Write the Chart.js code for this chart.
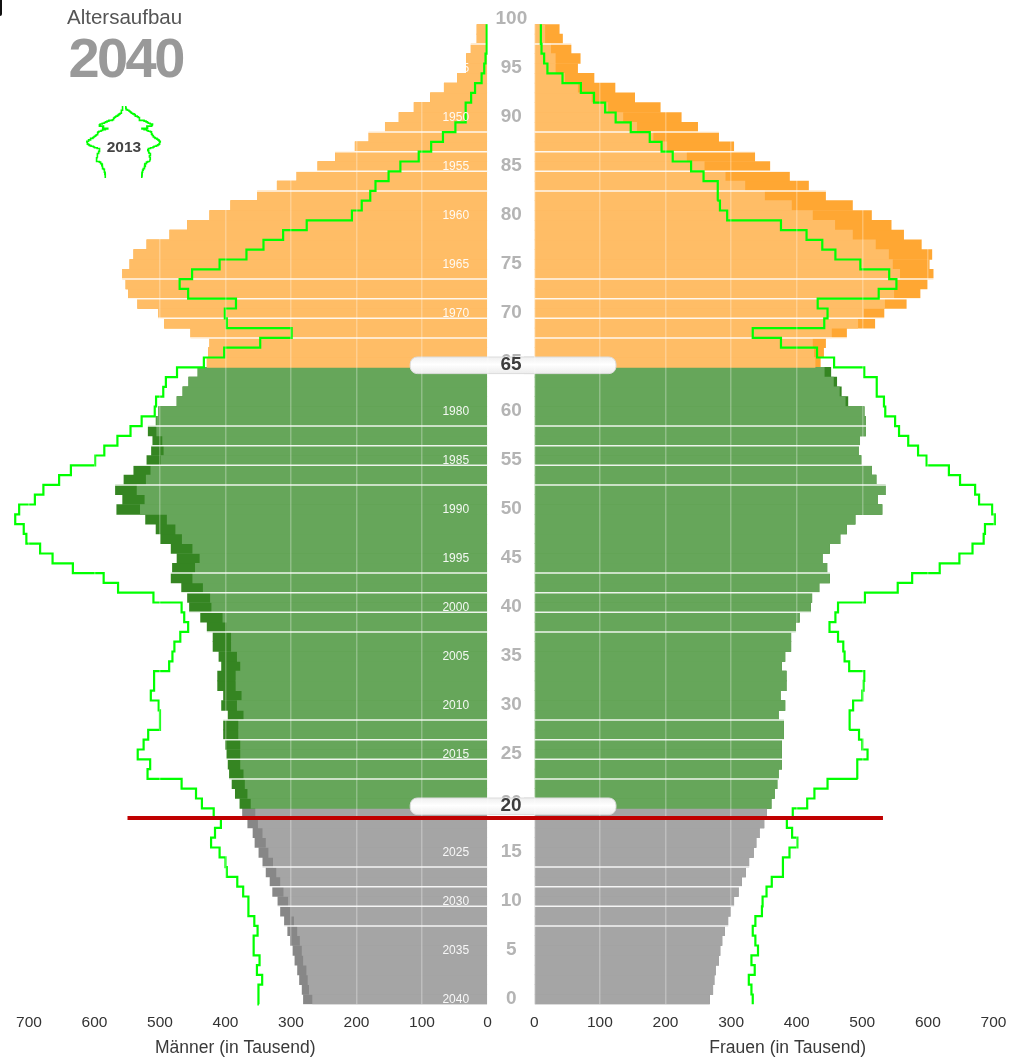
<!DOCTYPE html>
<html lang="de"><head><meta charset="utf-8"><title>Altersaufbau 2040</title>
<script src="https://cdn.jsdelivr.net/npm/chart.js@4/dist/chart.umd.min.js"></script>
<style>
html,body{margin:0;padding:0;background:#fff;overflow:hidden;width:1015px;height:1058px;font-family:"Liberation Sans",Arial,sans-serif}
canvas{position:absolute;display:block}
.t{position:absolute;white-space:nowrap;z-index:5}
</style></head><body>
<div class="t" style="left:0;top:0;width:2px;height:16px;background:#111;border-bottom-right-radius:2px"></div>
<div class="t" style="left:67px;top:5px;font-size:20.5px;line-height:24px;color:#555">Altersaufbau</div>
<div class="t" style="left:68.5px;top:26px;font-size:56px;line-height:64px;font-weight:bold;letter-spacing:-2.6px;color:#999">2040</div>
<canvas id="male" width="551" height="1058" style="left:-17px;top:0"></canvas>
<canvas id="female" width="517" height="1058" style="left:524px;top:0"></canvas>
<canvas id="inset" width="88" height="84" style="left:80px;top:100px"></canvas>
<div class="t" style="left:84px;width:80px;top:137px;text-align:center;font-size:15.5px;line-height:20px;font-weight:bold;color:#444">2013</div>
<script>
// Values in thousands, index = age 0..99
const maleValues = [281,283,287,290,294,297,301,305,310,316,320,328,332,338,343,349,355,358,366,374,
378,385,390,394,396,398,400,403,403,396,406,403,412,412,406,410,419,419,428,438,
455,458,467,483,481,474,483,499,506,522,566,557,568,555,540,520,513,511,518,506,
502,474,465,456,442,428,426,424,453,493,502,534,548,552,557,546,540,520,485,458,
424,392,351,321,291,259,232,202,181,156,135,112,87,66,46,32,32,25,16,16];
const femaleValues = [267,272,274,276,281,283,286,290,295,299,304,311,316,322,327,334,338,343,350,354,
361,366,370,372,377,377,377,380,380,372,382,375,384,384,377,382,391,391,398,404,
421,423,434,450,446,439,450,466,476,489,530,523,535,521,514,498,494,496,505,505,
503,478,468,461,452,436,441,444,476,519,533,567,588,599,608,602,606,590,563,544,
514,485,444,418,389,359,336,304,281,249,224,192,153,123,91,66,70,56,43,38];
const male2013 = [349,350,344,352,348,357,357,351,356,365,365,373,382,398,400,409,422,416,407,418,
436,445,467,519,515,534,525,518,500,500,502,514,509,509,486,481,478,469,457,463,
467,510,564,586,633,664,683,704,708,721,715,691,678,654,636,599,585,565,545,528,
508,506,495,491,474,433,402,347,299,398,401,384,457,470,451,409,368,342,312,276,
207,192,179,171,151,133,105,86,68,49,34,33,25,19,9,5,3,2,1,1];
const female2013 = [333,331,327,336,331,341,337,333,337,347,348,354,362,379,379,389,401,393,385,394,
416,427,447,493,492,508,500,495,480,481,486,500,502,503,480,473,471,463,450,459,
463,504,554,576,618,648,668,685,687,702,698,678,672,649,632,598,585,570,556,550,
535,533,522,522,503,457,431,376,333,442,447,432,525,552,541,497,459,439,415,376,
294,283,279,280,258,239,211,194,176,147,124,108,91,71,43,20,15,11,10,10];
const ageTicks = [0,5,10,15,20,25,30,35,40,45,50,55,60,65,70,75,80,85,90,95,100];
const yearLabels = [1945,1950,1955,1960,1965,1970,1975,1980,1985,1990,1995,2000,2005,2010,2015,2020,2025,2030,2035,2040];
const projectionYear = 2040;
const separatorAges = [8,10,12,14,23,25,27,29,38,40,42,44,53,55,57,59,68,70,72,74,83,85,87,89,98];
const handleAges = [65,20];
const cutoffAge = 19;
const colours = {
  old:{light:'#ffbd66',dark:'#ffa733'},
  work:{light:'#66a65a',dark:'#358522'},
  young:{light:'#a5a5a5',dark:'#878787'}
};
const band = a => a >= 65 ? colours.old : a >= 20 ? colours.work : colours.young;
const FONT = '"Liberation Sans",Arial,sans-serif';

const barPts = arr => arr.map((v,i)=>({x:v,y:i+0.5}));
const stepPts = arr => arr.flatMap((v,i)=>[{x:v,y:i},{x:v,y:i+1}]);

function overlay(isMale, handleSpan, redSpan){
  return {
    id:'overlay',
    beforeDatasetDraw(chart,args){
      if(chart.data.datasets[args.index].label!=='2013') return;
      const {x,y}=chart.scales, c=chart.ctx, a=chart.chartArea;
      c.save();c.strokeStyle='rgba(255,255,255,0.88)';c.lineWidth=1.5;
      separatorAges.forEach(g=>{const p=y.getPixelForValue(g);c.beginPath();c.moveTo(a.left,p);c.lineTo(a.right,p);c.stroke();});
      c.restore();
    },
    afterDatasetsDraw(chart){
      const {x,y}=chart.scales, c=chart.ctx;
      c.save();
      if(isMale){
        c.font='12px '+FONT;c.fillStyle='rgba(255,255,255,0.92)';c.textAlign='center';c.textBaseline='middle';
        yearLabels.forEach(Y=>c.fillText(String(Y),x.getPixelForValue(48.5),y.getPixelForValue(projectionYear-Y)-4.3));
      }
      handleAges.forEach(ag=>{
        const mid=y.getPixelForValue(ag)-2, h=16.6, top=mid-h/2;
        const l=isMale?x.getPixelForValue(handleSpan):-20, r=isMale?chart.width+20:x.getPixelForValue(handleSpan);
        const g=c.createLinearGradient(0,top,0,top+h);
        g.addColorStop(0,'#efefef');g.addColorStop(.45,'#ffffff');g.addColorStop(1,'#ececec');
        c.beginPath();c.roundRect(l,top,r-l,h,7);c.fillStyle=g;c.fill();
        c.strokeStyle='#dcdcdc';c.lineWidth=1;c.stroke();
      });
      c.restore();
    },
    afterDraw(chart){
      const {x,y}=chart.scales, c=chart.ctx;
      c.save();
      if(isMale){
        c.font='bold 19px '+FONT;c.fillStyle='#3d3d3d';c.textAlign='center';c.textBaseline='middle';
        const cx=x.getPixelForValue(0)+23.5;
        handleAges.forEach(ag=>c.fillText(String(ag),cx,y.getPixelForValue(ag)-2.6));
      }
      c.strokeStyle='#c00000';c.lineWidth=4;c.beginPath();
      const p=y.getPixelForValue(cutoffAge);
      if(isMale){c.moveTo(x.getPixelForValue(redSpan),p);c.lineTo(chart.width,p);}
      else{c.moveTo(0,p);c.lineTo(x.getPixelForValue(redSpan),p);}
      c.stroke();c.restore();
    }
  };
}

function side(id, own, other, line2013, opts){
  const lightVals = own.map((v,i)=>Math.min(v,other[i]));
  new Chart(document.getElementById(id),{
    type:'bar',
    data:{datasets:[
      {label:'2013',type:'line',indexAxis:'y',data:stepPts(line2013),borderColor:'#00ff00',borderWidth:2.2,
       pointRadius:0,tension:0,fill:false,order:0,clip:false},
      {label:'common',indexAxis:'y',data:barPts(lightVals),backgroundColor:c=>band(Math.floor(c.raw.y)).light,order:1},
      {label:'surplus',indexAxis:'y',data:barPts(own),backgroundColor:c=>band(Math.floor(c.raw.y)).dark,order:2}
    ]},
    options:{
      indexAxis:'y',responsive:false,animation:false,
      datasets:{bar:{grouped:false,barPercentage:1,categoryPercentage:1,borderWidth:0}},
      layout:{autoPadding:false,padding:{top:24.3,left:opts.padLeft,right:0,bottom:0}},
      plugins:{legend:{display:false},tooltip:{enabled:false},title:{display:false}},
      scales:{
        x:{type:'linear',min:0,max:opts.max,reverse:opts.reverse,position:'bottom',
           afterFit:s=>{s.height=53.7;s.paddingLeft=0;s.paddingRight=0;},
           border:{display:false},
           grid:{color:'rgba(255,255,255,0.28)',lineWidth:1.5,drawTicks:false,z:1},
           ticks:{stepSize:100,includeBounds:false,autoSkip:false,maxRotation:0,padding:9.5,color:'#333',font:{family:FONT,size:15.5}},
           title:{display:true,text:opts.title,color:'#3a3a3a',font:{family:FONT,size:17.5},padding:{top:0,bottom:-0.8}}},
        y:{type:'linear',min:0,max:100,position:'right',display:opts.showAges,offset:false,
           afterFit:s=>{s.width=opts.showAges?46.5:0;s.paddingTop=0;s.paddingBottom=0;},
           border:{display:false},grid:{display:false,drawTicks:false,offset:false},
           afterBuildTicks:s=>{s.ticks=ageTicks.map(v=>({value:v}));},
           ticks:{autoSkip:false,padding:8,crossAlign:'center',labelOffset:-5.8,color:'#b4b4b4',font:{family:FONT,size:19,weight:'bold'}}}
      }
    },
    plugins:[overlay(opts.isMale,opts.handleSpan,opts.redSpan)]
  });
}

side('male',maleValues,femaleValues,male2013,{isMale:true,reverse:true,max:770.2,padLeft:0,showAges:true,title:'Männer (in Tausend)',handleSpan:118,redSpan:549.6});
side('female',femaleValues,maleValues,female2013,{isMale:false,reverse:false,max:772.4,padLeft:10.3,showAges:false,title:'Frauen (in Tausend)',handleSpan:124.5,redSpan:531.5});

new Chart(document.getElementById('inset'),{
  type:'scatter',
  data:{datasets:[
    {data:stepPts(male2013.map(v=>-v-26)),showLine:true,borderColor:'#00ff00',borderWidth:1.6,pointRadius:0},
    {data:stepPts(female2013.map(v=>v+26)),showLine:true,borderColor:'#00ff00',borderWidth:1.6,pointRadius:0}
  ]},
  options:{responsive:false,animation:false,layout:{autoPadding:false,padding:{top:6,bottom:6,left:0,right:0}},
    plugins:{legend:{display:false},tooltip:{enabled:false}},
    scales:{x:{display:false,min:-880,max:880},y:{display:false,min:0,max:100}}}
});
</script></body></html>
